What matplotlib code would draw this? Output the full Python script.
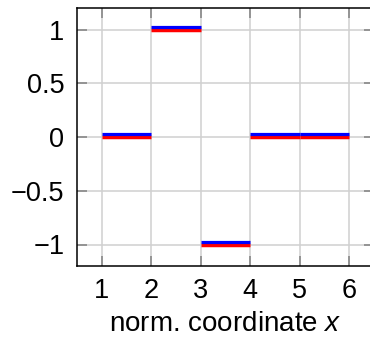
import matplotlib
matplotlib.use("Agg")
import matplotlib.pyplot as plt

plt.rcParams['font.family'] = ['Liberation Sans', 'DejaVu Sans']
plt.rcParams['mathtext.fontset'] = 'custom'
plt.rcParams['mathtext.it'] = 'Liberation Sans:italic'
plt.rcParams['mathtext.rm'] = 'Liberation Sans'
plt.rcParams['axes.unicode_minus'] = True

# cell edges and piecewise-constant values
edges = [1, 2, 3, 4, 5, 6]
red_vals = [0, 1, -1, 0, 0]
blue_vals = [0.026, 1.026, -0.974, 0.026, 0.026]

xticks = [1, 2, 3, 4, 5, 6]
yticks = [-1, -0.5, 0, 0.5, 1]
ytick_labels = ['\u22121', '\u22120.5', '0', '0.5', '1']

fig = plt.figure(figsize=(3.70, 3.38), dpi=100)
ax = fig.add_axes([77/370, 1 - 266/338, 296.7/370, 258/338])

ax.hlines(red_vals, edges[:-1], edges[1:], colors='#ff0000', linewidth=2.5, zorder=3)
ax.hlines(blue_vals, edges[:-1], edges[1:], colors='#0000ff', linewidth=2.3, zorder=4)

ax.set_xlim(0.5, 6.5)
ax.set_ylim(-1.2, 1.2)
ax.set_xticks(xticks)
ax.set_yticks(yticks)
ax.set_yticklabels(ytick_labels)
ax.grid(True, color='#d0d0d0', linewidth=1.1)
ax.set_axisbelow(True)
ax.tick_params(direction='in', length=7, width=1.1, color='#808080',
               top=True, right=True, labelsize=19.5, pad=9)
for s in ax.spines.values():
    s.set_linewidth(1.1)
ax.set_xlabel('norm. coordinate $x$', fontsize=20, labelpad=5)

fig.savefig('out.png', dpi=100)
